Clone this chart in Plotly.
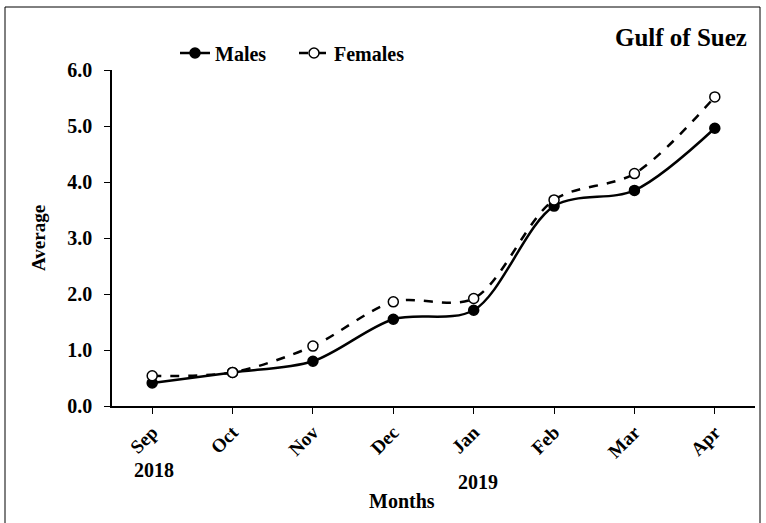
import plotly.graph_objects as go

months = ["Sep", "Oct", "Nov", "Dec", "Jan", "Feb", "Mar", "Apr"]
males = [0.41, 0.60, 0.80, 1.55, 1.71, 3.57, 3.85, 4.96]
females = [0.54, 0.60, 1.07, 1.86, 1.92, 3.68, 4.15, 5.52]
y_ticks = [0, 1, 2, 3, 4, 5, 6]
y_tick_labels = ["0.0", "1.0", "2.0", "3.0", "4.0", "5.0", "6.0"]

FONT = "Liberation Serif"
fig = go.Figure()
fig.add_trace(go.Scatter(
    x=months, y=males, name="<b>Males</b>", mode="lines+markers", legend="legend",
    line=dict(color="black", width=2.5, shape="spline", smoothing=0.9),
    marker=dict(symbol="circle", size=10, color="black", line=dict(color="black", width=1.5)),
))
fig.add_trace(go.Scatter(
    x=months, y=females, name="<b>Females</b>", mode="lines+markers", legend="legend2",
    line=dict(color="black", width=2.5, dash="dash", shape="spline", smoothing=0.9),
    marker=dict(symbol="circle", size=10, color="white", line=dict(color="black", width=1.5)),
))

L, R, T, B = 112, 11, 70, 117
W, H = 766, 523
pw, ph = W - L - R, H - T - B

def px(x):
    return (x - L) / pw

def py(y):
    return (H - B - y) / ph

legend_style = dict(orientation="h", xanchor="left", yanchor="middle",
                    font=dict(family=FONT, size=20, color="black"),
                    bgcolor="rgba(0,0,0,0)", borderwidth=0)

fig.update_layout(
    width=W, height=H,
    margin=dict(l=L, r=R, t=T, b=B),
    paper_bgcolor="white", plot_bgcolor="white",
    font=dict(family=FONT, color="black", size=19),
    showlegend=True,
    legend=dict(x=px(175), y=py(53), **legend_style),
    legend2=dict(x=px(294), y=py(53), **legend_style),
    xaxis=dict(
        type="category", range=[-0.5, 7.5], showline=True, linecolor="black", linewidth=1.5,
        ticks="outside", ticklen=6, tickcolor="black", tickangle=-45,
        tickfont=dict(family=FONT, size=19, color="black"),
        tickvals=months, ticktext=["<b>%s</b>" % m for m in months],
        showgrid=False, zeroline=False,
    ),
    yaxis=dict(
        range=[0, 6], showline=True, linecolor="black", linewidth=1.5,
        ticks="outside", ticklen=6, tickcolor="black", ticklabelstandoff=8,
        tickvals=y_ticks, ticktext=["<b>%s</b>" % t for t in y_tick_labels],
        tickfont=dict(family=FONT, size=20, color="black"),
        showgrid=False, zeroline=False,
    ),
    annotations=[
        dict(text="<b>Gulf of Suez</b>", xref="paper", yref="paper", x=px(749), y=py(38),
             xanchor="right", yanchor="middle", showarrow=False,
             font=dict(family=FONT, size=25, color="black")),
        dict(text="<b>Average</b>", xref="paper", yref="paper", x=px(38), y=py(238),
             xanchor="center", yanchor="middle", showarrow=False, textangle=-90,
             font=dict(family=FONT, size=19, color="black")),
        dict(text="<b>Months</b>", xref="paper", yref="paper", x=px(402), y=py(501),
             xanchor="center", yanchor="middle", showarrow=False,
             font=dict(family=FONT, size=20, color="black")),
        dict(text="<b>2018</b>", xref="paper", yref="paper", x=px(154), y=py(470),
             xanchor="center", yanchor="middle", showarrow=False,
             font=dict(family=FONT, size=20, color="black")),
        dict(text="<b>2019</b>", xref="paper", yref="paper", x=px(478), y=py(482),
             xanchor="center", yanchor="middle", showarrow=False,
             font=dict(family=FONT, size=20, color="black")),
    ],
    shapes=[
        dict(type="rect", xref="paper", yref="paper", x0=px(5), x1=px(760), y0=py(527), y1=py(7),
             line=dict(color="black", width=1), fillcolor="rgba(0,0,0,0)", layer="below"),
    ],
)

fig.write_html("out.html", config={"displayModeBar": False},
               post_script="document.body.style.margin='0';")
